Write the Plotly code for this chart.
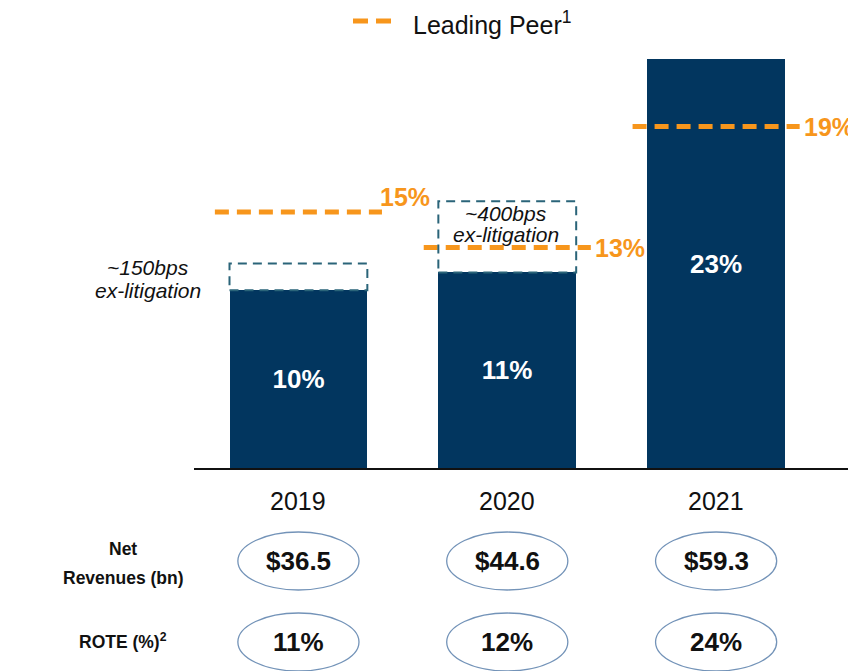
import plotly.graph_objects as go

# ---------------- data ----------------
years = ["2019", "2020", "2021"]
rotce = [10, 11, 23]                      # bar values (%)
rotce_labels = ["10%", "11%", "23%"]
ex_litigation_bps = [150, 400, None]      # uplift ex-litigation
ex_litigation_labels = ["~150bps", "~400bps", None]
peer_level = [14.4, 12.4, 19.2]           # leading peer level as drawn (%)
peer_labels = ["15%", "13%", "19%"]
net_revenues = ["$36.5", "$44.6", "$59.3"]
rote = ["11%", "12%", "24%"]

# ---------------- styles ----------------
NAVY = "#02365F"
ORANGE = "#F7961C"
TEAL = "#2A6479"
ELLIPSE = "#7393B8"
INK = "#111111"
FONT = "Arial, 'Liberation Sans', sans-serif"

OFF = 8                      # page body margin of the browser
WIN_W, WIN_H = 856, 671
W, H = WIN_W - OFF, WIN_H - OFF
LEFT_WIN, RIGHT_WIN, TOP_WIN, BASE_WIN = 194, 855, 30, 468
ML = LEFT_WIN - OFF
MR = W - (RIGHT_WIN - OFF)
MT = TOP_WIN - OFF
MB = H - (BASE_WIN - OFF)
PLOT_W = W - ML - MR
PLOT_H = H - MT - MB
PX_PER_PCT = 17.78
YMAX = PLOT_H / PX_PER_PCT


def px(xwin):
    return (xwin - LEFT_WIN) / PLOT_W


def py(ywin):
    return (BASE_WIN - ywin) / PLOT_H


xs = list(range(len(years)))

fig = go.Figure()

fig.add_trace(go.Bar(
    x=xs, y=rotce, width=0.66,
    marker=dict(color=NAVY, line=dict(width=0)),
    text=rotce_labels, textposition="inside", insidetextanchor="middle",
    textangle=0, constraintext="none",
    textfont=dict(color="white", size=26, family=FONT, weight="bold"),
    hoverinfo="skip", showlegend=False,
))

# leading peer dashed segments
peer_x, peer_y = [], []
for i, lv in zip(xs, peer_level):
    peer_x += [i - 0.40, i + 0.40, None]
    peer_y += [lv, lv, None]
fig.add_trace(go.Scatter(
    x=peer_x, y=peer_y, mode="lines",
    line=dict(color=ORANGE, width=5, dash="14px,8px"),
    hoverinfo="skip", showlegend=False,
))

shapes = []
annotations = []

# ex-litigation dashed boxes and notes
note_layout = {0: (148, 267, 290), 1: (506, 213, 235)}
for i, (v, bps, lab) in enumerate(zip(rotce, ex_litigation_bps, ex_litigation_labels)):
    if bps is None:
        continue
    top = v + bps / 100
    shapes.append(dict(type="rect", xref="x", yref="y",
                       x0=i - 0.33, x1=i + 0.33, y0=v, y1=top,
                       line=dict(color=TEAL, width=2, dash="9px,6px"),
                       fillcolor="rgba(0,0,0,0)", layer="above"))
    xc, y1, y2 = note_layout[i]
    for txt, yy in ((lab, y1), ("ex-litigation", y2)):
        annotations.append(dict(x=px(xc), y=py(yy), xref="paper", yref="paper",
                                text=f"<i>{txt}</i>", showarrow=False,
                                xanchor="center", yanchor="middle",
                                font=dict(size=21, color=INK, family=FONT)))

# peer labels
peer_label_yshift = [15, 0, 0]
for i, (lv, lab, ys) in enumerate(zip(peer_level, peer_labels, peer_label_yshift)):
    annotations.append(dict(x=i + 0.40, y=lv, xref="x", yref="y", text=f"<b>{lab}</b>",
                            showarrow=False, xanchor="left", yanchor="middle",
                            xshift=-4 if i == 0 else 2, yshift=ys,
                            font=dict(size=25, color=ORANGE, family=FONT)))

# year labels
for i, yr in enumerate(years):
    annotations.append(dict(x=i, y=py(501), xref="x", yref="paper", text=yr,
                            showarrow=False, xanchor="center", yanchor="middle",
                            font=dict(size=25, color=INK, family=FONT)))

# table rows (ellipses)
rows = [(net_revenues, 561), (rote, 642)]
for vals, yc in rows:
    for i, v in enumerate(vals):
        shapes.append(dict(type="circle", xref="x", yref="paper",
                           x0=i - 0.29, x1=i + 0.29, y0=py(yc + 29), y1=py(yc - 29),
                           line=dict(color=ELLIPSE, width=1.3),
                           fillcolor="rgba(0,0,0,0)"))
        annotations.append(dict(x=i, y=py(yc), xref="x", yref="paper", text=f"<b>{v}</b>",
                                showarrow=False, xanchor="center", yanchor="middle",
                                font=dict(size=26, color=INK, family=FONT)))

# row headers
for txt, yy in (("<b>Net</b>", 549), ("<b>Revenues (bn)</b>", 578), ("<b>ROTE (%)<sup>2</sup></b>", 641)):
    annotations.append(dict(x=px(123), y=py(yy), xref="paper", yref="paper", text=txt,
                            showarrow=False, xanchor="center", yanchor="middle",
                            font=dict(size=17.5, color=INK, family=FONT)))

# legend (manual)
shapes.append(dict(type="line", xref="paper", yref="paper",
                   x0=px(353), x1=px(392), y0=py(21), y1=py(21),
                   line=dict(color=ORANGE, width=5, dash="15px,8px")))
annotations.append(dict(x=px(411), y=py(23), xref="paper", yref="paper",
                        text="Leading Peer<sup>1</sup>", showarrow=False,
                        xanchor="left", yanchor="middle",
                        font=dict(size=25, color=INK, family=FONT)))

fig.update_layout(
    width=W, height=H, autosize=False,
    margin=dict(l=ML, r=MR, t=MT, b=MB, pad=0),
    paper_bgcolor="white", plot_bgcolor="white",
    shapes=shapes, annotations=annotations,
    showlegend=False,
    xaxis=dict(range=[-0.5, 2.665], showticklabels=False, showgrid=False,
               zeroline=False, showline=True, linecolor=INK, linewidth=2,
               ticks="", fixedrange=True),
    yaxis=dict(range=[0, YMAX], visible=False, showgrid=False, zeroline=False,
               fixedrange=True),
    bargap=0,
    font=dict(family=FONT),
)

fig.write_html("out.html")
